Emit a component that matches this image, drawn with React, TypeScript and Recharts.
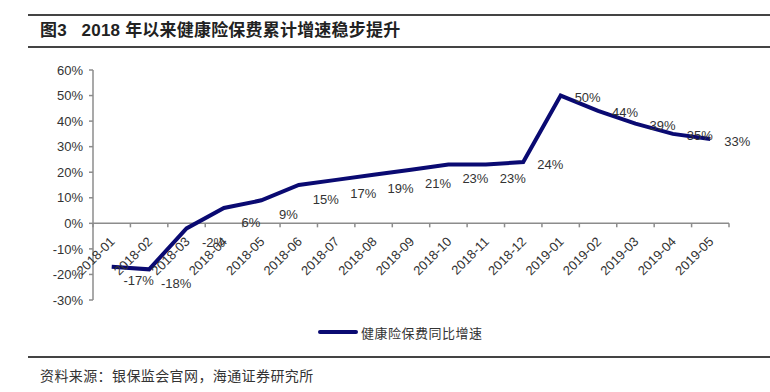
import { LineChart, Line, XAxis, YAxis, ReferenceLine, LabelList } from 'recharts'

const MONTHS = [
  '2018-01', '2018-02', '2018-03', '2018-04', '2018-05', '2018-06', '2018-07', '2018-08', '2018-09',
  '2018-10', '2018-11', '2018-12', '2019-01', '2019-02', '2019-03', '2019-04', '2019-05',
]
const GROWTH = [-17, -18, -2, 6, 9, 15, 17, 19, 21, 23, 23, 24, 50, 44, 39, 35, 33]
const Y_TICKS = [-30, -20, -10, 0, 10, 20, 30, 40, 50, 60]

const data = MONTHS.map((month, i) => ({ month, growth: GROWTH[i] }))

const W = 770
const H = 392
const TOP = 70
const LEFT = 93
const RIGHT = 41
const BOTTOM = 92
const X_AXIS_H = 30
const PLOT_W = W - LEFT - RIGHT
const PLOT_H = H - TOP - BOTTOM
const Y_MIN = Y_TICKS[0]
const Y_MAX = Y_TICKS[Y_TICKS.length - 1]
const ZERO_Y = TOP + (PLOT_H * Y_MAX) / (Y_MAX - Y_MIN)
const BAND = PLOT_W / MONTHS.length

const NAVY = '#0a0a72'
const AXIS = '#8c8c8c'
const LATIN = '"Liberation Sans", Arial, "Noto Sans CJK SC", sans-serif'
const CJK = '"Noto Sans CJK SC", sans-serif'

function XTick(props: any) {
  const { x, index, payload } = props
  const last = index === MONTHS.length - 1
  return (
    <g>
      <line x1={x - BAND / 2} x2={x - BAND / 2} y1={ZERO_Y} y2={ZERO_Y + 4} stroke={AXIS} strokeWidth={1.5} />
      {last && <line x1={x + BAND / 2} x2={x + BAND / 2} y1={ZERO_Y} y2={ZERO_Y + 4} stroke={AXIS} strokeWidth={1.5} />}
      <text
        x={x + 4}
        y={ZERO_Y + 19}
        transform={`rotate(-45 ${x + 4} ${ZERO_Y + 19})`}
        textAnchor="end"
        fontSize={13}
        fontFamily={LATIN}
        fill="#333"
      >
        {payload.value}
      </text>
    </g>
  )
}

function PointLabel(props: any) {
  const { x, y, value, index } = props
  const dy = index <= 10 ? 14 : 2
  return (
    <text x={x + 27} y={y + dy} textAnchor="middle" dominantBaseline="central" fontSize={13} fontFamily={LATIN} fill="#333">
      {value}%
    </text>
  )
}

const rule = (top: number) => (
  <div style={{ position: 'absolute', left: 28, right: 0, top, height: 2, background: '#444' }} />
)

export default function App() {
  return (
    <div style={{ position: 'absolute', left: 0, top: 0, width: W, height: H, background: '#fff', overflow: 'hidden' }}>
      {rule(14)}
      <div
        style={{
          position: 'absolute', left: 40, top: 20, fontSize: 17, fontWeight: 700, fontFamily: LATIN,
          color: '#222', whiteSpace: 'pre', lineHeight: '22px', letterSpacing: 0.2,
        }}
      >
        {'图3   2018 年以来健康险保费累计增速稳步提升'}
      </div>
      {rule(46)}

      <div style={{ position: 'absolute', left: 0, top: 0 }}>
        <LineChart width={W} height={H} data={data} margin={{ top: TOP, right: RIGHT, bottom: BOTTOM - X_AXIS_H, left: 0 }}>
          <XAxis
            dataKey="month"
            height={X_AXIS_H}
            axisLine={false}
            tickLine={false}
            interval={0}
            padding={{ left: BAND / 2, right: BAND / 2 }}
            tick={<XTick />}
          />
          <YAxis
            width={LEFT}
            domain={[Y_MIN, Y_MAX]}
            ticks={Y_TICKS}
            tickFormatter={v => `${v}%`}
            tick={{ fontSize: 13, fill: '#333', fontFamily: LATIN }}
            axisLine={{ stroke: AXIS, strokeWidth: 1.5 }}
            tickLine={{ stroke: AXIS, strokeWidth: 1.5 }}
            tickSize={4}
            tickMargin={6}
          />
          <ReferenceLine y={0} stroke={AXIS} strokeWidth={1.5} />
          <Line type="linear" dataKey="growth" stroke={NAVY} strokeWidth={4} dot={false} isAnimationActive={false}>
            <LabelList dataKey="growth" content={<PointLabel />} />
          </Line>
        </LineChart>
      </div>

      <div style={{ position: 'absolute', left: 318, top: 322, display: 'flex', alignItems: 'center', height: 20 }}>
        <div style={{ width: 40, height: 4, borderRadius: 2, background: NAVY }} />
        <span style={{ marginLeft: 3, fontSize: 13, fontFamily: CJK, color: '#333', letterSpacing: 0.5 }}>健康险保费同比增速</span>
      </div>

      {rule(356)}
      <div style={{ position: 'absolute', left: 40, top: 365, fontSize: 14, fontFamily: CJK, color: '#333', whiteSpace: 'pre', letterSpacing: 0.4 }}>
        资料来源：银保监会官网，海通证券研究所
      </div>
    </div>
  )
}
